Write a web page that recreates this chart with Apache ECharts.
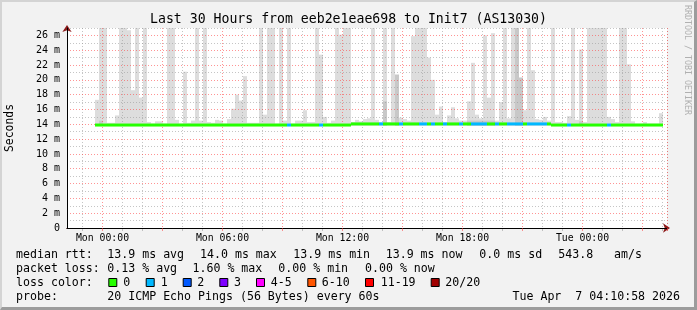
<!DOCTYPE html>
<html><head><meta charset="utf-8">
<script src="https://cdn.jsdelivr.net/npm/echarts@6/dist/echarts.min.js"></script>
<style>
html,body{margin:0;padding:0;background:#f2f2f2;}
#c{position:absolute;left:0;top:0;width:697px;height:310px;}
#frame{position:absolute;left:0;top:0;width:697px;height:310px;box-sizing:border-box;border-style:solid;border-width:2px 3px 3px 2px;border-color:#d4d4d4 #9c9c9c #9c9c9c #d4d4d4;pointer-events:none;}
</style></head><body><div id="c"></div><div id="frame"></div>
<script>
// ---- data (milliseconds) ----
const F = 28;      // smoke reaching above the top of the plot
const _ = null;
const titleText = 'Last 30 Hours from eeb2e1eae698 to Init7 (AS13030)';
const yTicks = [0,2,4,6,8,10,12,14,16,18,20,22,24,26];
const xTickLabels = ['Mon 00:00','Mon 06:00','Mon 12:00','Mon 18:00','Tue 00:00'];
const axisStartMinute = 22*60 + 14;   // Sun 22:14
const axisMinutes = 1800;             // 30 hours
const binCount = 150;                 // 12-minute bins across the plot
const firstDataBin = 7;
const smokeFloor = 13.8;
const smokeMax = [
17.3,F,F,14.2,14.2,15.2,F,F,26.7,18.6,
F,17.6,F,14.3,14.1,14.4,14.4,14.1,F,F,
14.6,14.1,21.1,14.2,14.5,F,14.5,F,14.3,14.2,
14.6,14.5,14.1,14.7,16.1,18.0,17.2,20.5,14.2,14.2,
14.2,F,15.3,F,F,14.1,F,14.5,F,14.1,
14.5,14.5,15.9,14.3,14.3,F,23.4,15.0,14.2,14.5,
F,26.1,F,F,14.3,14.6,14.4,14.7,14.8,F,
14.6,14.3,F,14.3,F,20.7,14.9,14.7,14.5,25.9,
F,F,F,23.0,20.0,15.3,16.4,14.3,15.2,16.3,
14.8,14.5,14.5,17.1,22.3,15.3,14.8,26.0,17.6,26.3,
14.5,17.0,F,14.8,F,F,20.3,15.9,F,21.3,
14.7,14.6,15.0,14.5,F,14.3,14.3,14.2,15.1,F,
14.6,24.1,14.3,F,F,F,F,F,15.0,14.7,
14.3,F,F,22.1,14.4,14.1,14.1,14.3,14.1,14.1,
14.1,15.5
];
const smokeDark = [
_,14.5,_,_,_,_,_,_,_,_,
_,_,_,_,_,_,_,_,_,_,
_,_,_,_,_,_,_,_,_,_,
_,_,_,_,_,_,_,_,_,_,
_,_,_,_,_,_,_,_,_,_,
_,_,_,_,_,_,_,_,_,_,
_,_,_,_,_,_,_,_,_,_,
_,_,17.1,_,_,20.7,_,_,_,_,
_,_,_,_,_,_,_,_,_,_,
_,_,_,14.5,14.5,14.5,14.5,14.5,14.5,14.5,
_,_,_,_,_,F,20.3,_,_,_,
_,_,_,_,_,_,_,_,_,_,
_,14.4,_,_,_,_,_,_,_,_,
_,_,_,_,_,_,_,_,_,_,
_,_
];
const medianRtt = [
13.9,13.9,13.9,13.9,13.9,13.9,13.9,13.9,13.9,13.9,
13.9,13.9,13.9,13.9,13.9,13.9,13.9,13.9,13.9,13.9,
13.9,13.9,13.9,13.9,13.9,13.9,13.9,13.9,13.9,13.9,
13.9,13.9,13.9,13.9,13.9,13.9,13.9,13.9,13.9,13.9,
13.9,13.9,13.9,13.9,13.9,13.9,13.9,13.9,13.9,13.9,
13.9,13.9,13.9,13.9,13.9,13.9,13.9,13.9,13.9,13.9,
13.9,13.9,13.9,13.9,14.05,14.05,14.05,14.05,14.05,14.05,
14.05,14.05,14.05,14.05,14.05,14.05,14.05,14.05,14.05,14.05,
14.05,14.05,14.05,14.05,14.05,14.05,14.05,14.05,14.05,14.05,
14.05,14.05,14.05,14.05,14.05,14.05,14.05,14.05,14.05,14.05,
14.05,14.05,14.05,14.05,14.05,14.05,14.05,14.05,14.05,14.05,
14.05,14.05,14.05,14.05,13.9,13.9,13.9,13.9,13.9,13.9,
13.9,13.9,13.9,13.9,13.9,13.9,13.9,13.9,13.9,13.9,
13.9,13.9,13.9,13.9,13.9,13.9,13.9,13.9,13.9,13.9,
13.9,13.9
];
const lostPings = [
0,0,0,0,0,0,0,0,0,0,
0,0,0,0,0,0,0,0,0,0,
0,0,0,0,0,0,0,0,0,0,
0,0,0,0,0,0,0,0,0,0,
0,0,0,0,0,0,0,0,1,0,
0,0,0,0,0,0,1,0,0,0,
0,0,0,0,0,0,0,0,0,0,
0,1,0,0,0,0,1,0,0,0,
0,1,1,0,1,0,0,1,0,0,
0,1,0,0,1,1,1,1,0,0,
1,0,0,1,1,1,1,0,1,1,
1,1,1,0,0,0,0,0,1,0,
0,0,0,0,0,0,0,0,1,0,
0,0,0,0,0,0,0,0,0,0,
0,0
];
const lossLabels = ['0','1','2','3','4-5','6-10','11-19','20/20'];
const lossColors = ['#26ff00','#00b8ff','#0059ff','#7e00ff','#ff00ff','#ff5500','#ff0000','#a10000'];
const legendRows = [
  [['median rtt:',16],['13.9 ms avg',107.3],['14.0 ms max',200],['13.9 ms min',293.3],['13.9 ms now',385.7],['0.0 ms sd',479.3],['543.8',558.3],['am/s',614]],
  [['packet loss:',16],['0.13 % avg',107.3],['1.60 % max',192.5],['0.00 % min',278.3],['0.00 % now',365]],
  [['loss color:',16]],
  [['probe:',16],['20 ICMP Echo Pings (56 Bytes) every 60s',107.3]]
];
const stampText = 'Tue Apr  7 04:10:58 2026';

// ---- build ----
const days = ['Sun','Mon','Tue'];
function minuteLabel(m){
  const t = axisStartMinute + m;
  const d = Math.floor(t/1440), r = t%1440;
  const hh = String(Math.floor(r/60)).padStart(2,'0'), mm = String(r%60).padStart(2,'0');
  return days[d] + ' ' + hh + ':' + mm;
}
const minuteCats = []; for (let i=0;i<axisMinutes;i++) minuteCats.push(minuteLabel(i));
const binCats = []; for (let i=0;i<binCount;i++) binCats.push(minuteLabel(i*12));
function full(arr){ const out = new Array(binCount).fill(null); arr.forEach((v,i)=>{ out[firstDataBin+i]=v; }); return out; }
const baseArr = full(smokeMax.map(()=>smokeFloor));
const smokeArr = full(smokeMax.map(v=>v-smokeFloor));
const darkBaseArr = full(smokeDark.map(v=>v==null?null:smokeFloor));
const darkArr = full(smokeDark.map(v=>v==null?null:v-smokeFloor));
const medianData = medianRtt.map((m,i)=>[firstDataBin+i, m, lostPings[i]]);
const minuteOfDay = i => (axisStartMinute + i) % 1440;
const isLabelTick = i => minuteOfDay(i) % 360 === 0 && xTickLabels.indexOf(minuteCats[i]) >= 0;

const FONT = '"DejaVu Sans Mono", monospace';
const RED = 'rgba(255,60,60,0.55)';
const GRAY = 'rgba(150,150,150,0.55)';

const graphics = [];
graphics.push({type:'text', x:348.5, y:19.5, style:{text:titleText, font:'13.2px '+FONT, fill:'#000', align:'center', verticalAlign:'middle'}});
graphics.push({type:'text', x:10.5, y:128, rotation:Math.PI/2, style:{text:'Seconds', font:'11.4px '+FONT, fill:'#000', align:'center', verticalAlign:'middle'}});
graphics.push({type:'text', x:687, y:60, rotation:-Math.PI/2, style:{text:'RRDTOOL / TOBI OETIKER', font:'8.3px '+FONT, fill:'#b0b0b0', align:'center', verticalAlign:'middle'}});
const rowY = [254.5, 268.5, 282.5, 296.5];
legendRows.forEach((row,ri)=>row.forEach(([t,x])=>{
  graphics.push({type:'text', x:x, y:rowY[ri], style:{text:t, font:'11.6px '+FONT, fill:'#000', align:'left', verticalAlign:'middle'}});
}));
const boxX = [108.3,145.7,182.7,219.3,256,307.3,365,430.7];
const boxLabelX = [123.3,160.7,197.3,234,270.7,321.7,380.7,445.3];
lossLabels.forEach((l,i)=>{
  graphics.push({type:'rect', shape:{x:boxX[i]+0.5, y:278.5, width:8, height:8}, style:{fill:lossColors[i], stroke:'#000', lineWidth:1}});
  graphics.push({type:'text', x:boxLabelX[i], y:rowY[2], style:{text:l, font:'11.6px '+FONT, fill:'#000', align:'left', verticalAlign:'middle'}});
});
graphics.push({type:'text', x:680, y:rowY[3], style:{text:stampText, font:'11.6px '+FONT, fill:'#000', align:'right', verticalAlign:'middle'}});

const chart = echarts.init(document.getElementById('c'), null, {renderer:'canvas'});
chart.setOption({
  animation:false,
  backgroundColor:'transparent',
  grid:{left:67, top:28, width:600, height:200, show:true, backgroundColor:'#ffffff', borderWidth:0, z:0},
  xAxis:[
    {type:'category', data:binCats, show:false, boundaryGap:true, position:'bottom'},
    {type:'category', data:minuteCats, boundaryGap:true, z:2, position:'bottom', offset:0,
      axisLine:{show:false}, axisLabel:{show:false},
      axisTick:{show:true, length:3, interval:i=>minuteOfDay(i)%60===0 && minuteOfDay(i)%180!==0, lineStyle:{color:GRAY}},
      splitLine:{show:true, interval:i=>minuteOfDay(i)%60===0 && minuteOfDay(i)%180!==0, lineStyle:{color:GRAY, type:[1,2], width:1}}},
    {type:'category', data:minuteCats, boundaryGap:true, z:2, position:'bottom', offset:0,
      axisLine:{show:true, symbol:['none','arrow'], symbolSize:[7,7], symbolOffset:[0,3], lineStyle:{color:'#8b1a1a', width:1}},
      axisLabel:{show:false}, axisTick:{show:false}, splitLine:{show:false}},
    {type:'category', data:minuteCats, boundaryGap:true, z:3, position:'bottom', offset:0,
      axisLine:{show:true, lineStyle:{color:'#000', width:1}},
      axisTick:{show:true, length:3, interval:i=>minuteOfDay(i)%180===0, lineStyle:{color:RED}},
      axisLabel:{show:true, interval:isLabelTick, formatter:v=>v, fontFamily:'DejaVu Sans Mono', fontSize:9.8, color:'#000', margin:5},
      splitLine:{show:true, interval:i=>minuteOfDay(i)%180===0, lineStyle:{color:RED, type:[1,2], width:1}}}
  ],
  yAxis:[
    {type:'value', min:0, max:27, interval:1, z:3, position:'left', offset:0,
      axisLine:{show:true, lineStyle:{color:'#000', width:1}},
      axisTick:{show:false},
      axisLabel:{fontFamily:'DejaVu Sans Mono', fontSize:10, color:'#000', margin:7, showMaxLabel:false,
        formatter:v=>yTicks.indexOf(v)<0 ? '' : (v===0 ? '0' : v+' m')},
      splitLine:{show:true, lineStyle:{color:[RED, GRAY], type:[1,2], width:1}}},
    {type:'value', min:0, max:27, z:2, position:'left', offset:0,
      axisLine:{show:true, symbol:['none','arrow'], symbolSize:[7,7], symbolOffset:[0,3], lineStyle:{color:'#8b1a1a', width:1}},
      axisTick:{show:false}, axisLabel:{show:false}, splitLine:{show:false}}
  ],
  graphic:graphics,
  series:[
    {type:'bar', xAxisIndex:0, yAxisIndex:0, stack:'smoke', data:baseArr, barCategoryGap:'0%', barGap:'-100%', itemStyle:{color:'rgba(0,0,0,0)'}, z:1, silent:true},
    {type:'bar', xAxisIndex:0, yAxisIndex:0, stack:'smoke', data:smokeArr, barCategoryGap:'0%', barGap:'-100%', itemStyle:{color:'#dddddd'}, z:1, silent:true},
    {type:'bar', xAxisIndex:0, yAxisIndex:0, stack:'dark', data:darkBaseArr, barCategoryGap:'0%', barGap:'-100%', itemStyle:{color:'rgba(0,0,0,0)'}, z:1, silent:true},
    {type:'bar', xAxisIndex:0, yAxisIndex:0, stack:'dark', data:darkArr, barCategoryGap:'0%', barGap:'-100%', itemStyle:{color:'#c8c8c8'}, z:1, silent:true},
    {type:'custom', xAxisIndex:0, yAxisIndex:0, data:medianData, z:5, silent:true,
      renderItem:(params, api)=>{
        const p = api.coord([api.value(0), api.value(1)]);
        const w = api.size([1,0])[0];
        return {type:'rect', shape:{x:p[0]-w/2, y:p[1]-1.5, width:w, height:3}, style:{fill:lossColors[api.value(2)]}};
      }}
  ]
});
</script></body></html>
